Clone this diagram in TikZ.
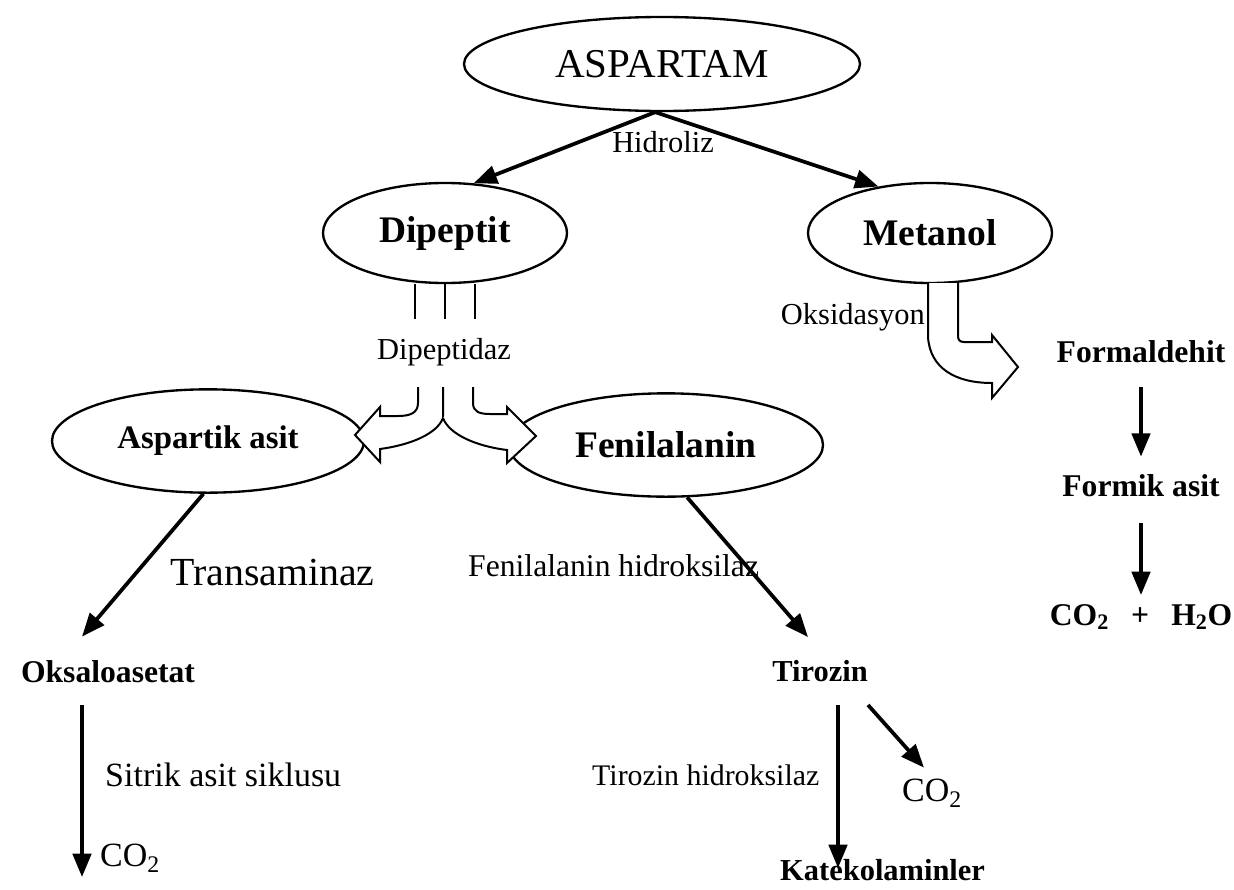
\documentclass[tikz,border=0pt]{standalone}
\usepackage{fontspec}
\setmainfont{Liberation Serif}
\usetikzlibrary{shapes.geometric, arrows.meta, positioning, calc}

\begin{document}
\begin{tikzpicture}[
      x=0.03cm, y=-0.03cm,
      ell/.style={ellipse, draw, line width=2pt, inner sep=0pt, font=\fontsize{32}{34}\selectfont\bfseries},
      chem/.style={inner sep=0pt, font=\fontsize{27}{29}\selectfont\bfseries},
      enz/.style={inner sep=0pt, font=\fontsize{26}{28}\selectfont},
      gas/.style={inner sep=0pt, font=\fontsize{29}{31}\selectfont},
      conv/.style={line width=3.2pt, -{Triangle[length=0.7cm, width=0.55cm]}},
      hollow/.style={line width=1.7pt, line join=miter, fill=white}
    ]
      \useasboundingbox (0,0) rectangle (1234,889);

      \node[ell, minimum width=11.88cm, minimum height=2.82cm, font=\fontsize{35}{37}\selectfont] (asp) at (662,64) {ASPARTAM};
      \node[ell, minimum width=7.32cm, minimum height=3cm] (dip) at (445,233) {Dipeptit};
      \node[ell, minimum width=7.32cm, minimum height=3cm] (met) at (930,233) {Metanol};
      \node[ell, minimum width=9.36cm, minimum height=3.1cm, font=\fontsize{28}{30}\selectfont\bfseries] (aspa) at (208,441) {Aspartik asit};
      \node[ell, minimum width=9.42cm, minimum height=3.1cm] (fen) at (666,445) {Fenilalanin};

      \node[enz] (hid) at (663,142) {Hidroliz};
      \node[enz] (dipz) at (444,352) {Dipeptidaz};
      \node[enz, anchor=east] (oks) at (925,317) {Oksidasyon};
      \node[enz, font=\fontsize{34}{36}\selectfont, anchor=west] (trans) at (170,572) {Transaminaz};
      \node[enz, font=\fontsize{27}{29}\selectfont, anchor=west] (fenh) at (468,566) {Fenilalanin hidroksilaz};
      \node[enz, font=\fontsize{29}{31}\selectfont, anchor=west] (sitrik) at (105,775) {Sitrik asit siklusu};
      \node[enz, font=\fontsize{25.5}{27}\selectfont, anchor=west] (tirh) at (592,775) {Tirozin hidroksilaz};

      \node[chem] (form) at (1141,352) {Formaldehit};
      \node[chem] (formik) at (1141,486) {Formik asit};
      \node[chem] (coh) at (1141,617) {CO\textsubscript{2}\hspace{0.7em}+\hspace{0.7em}H\textsubscript{2}O};
      \node[chem] (oksa) at (108,672) {Oksaloasetat};
      \node[chem, font=\fontsize{26}{28}\selectfont\bfseries] (tir) at (820,671) {Tirozin};
      \node[chem, font=\fontsize{26}{28}\selectfont\bfseries, anchor=north west] (kat) at (780,859) {Katekolaminler};
      \node[gas, anchor=west] (co2a) at (100,858) {CO\textsubscript{2}};
      \node[gas] (co2b) at (932,793) {CO\textsubscript{2}};

      \draw[conv] (asp.262) -- (dip.60);
      \draw[conv] (asp.262) -- (met.138);

      \foreach \dx in {-30,0,30}
        \draw[line width=1.7pt] ([xshift=\dx*0.03cm]dip.south) -- ++(0,35);

      \draw[hollow] (418,387) -- (418,403) .. controls (418,413) and (410,416) .. (398,416) -- (380,416) -- (380,407)
        -- (355,435) -- (380,462) -- (380,449) .. controls (410,445) and (437,434) .. (443,418) -- (443,387);
      \draw[hollow] (473,387) -- (473,403) .. controls (473,412) and (480,414) .. (490,414) -- (507,414) -- (507,407)
        -- (536,436) -- (507,463) -- (507,450) .. controls (475,446) and (449,434) .. (443,418);

      \draw[hollow] (928,283) -- (928,337) .. controls (930,368) and (955,383) .. (992,383) -- (992,398)
        -- (1018,367) -- (992,335) -- (992,342) -- (964,342) .. controls (960,342) and (958,340) .. (958,336) -- (958,283);

      \draw[conv] ([yshift=-24*0.03cm]form.south) -- ([yshift=18*0.03cm]formik.north);
      \draw[conv] ([yshift=-26*0.03cm]formik.south) -- ([yshift=9*0.03cm]coh.north);

      \draw[conv] (aspa.265) -- ([shift={(-26,-24)}]oksa.north);
      \draw[conv] (fen.292) -- ([shift={(-12,-23)}]tir.north);
      \draw[conv] ([shift={(-26,22)}]oksa.south) -- ([shift={(-18,19)}]co2a.west);
      \draw[conv] ([shift={(18,23)}]tir.south) -- ([shift={(58,9)}]kat.north west);
      \draw[conv] ([shift={(48,23)}]tir.south) -- ([shift={(-8,-11)}]co2b.north);
    \end{tikzpicture}
\end{document}
